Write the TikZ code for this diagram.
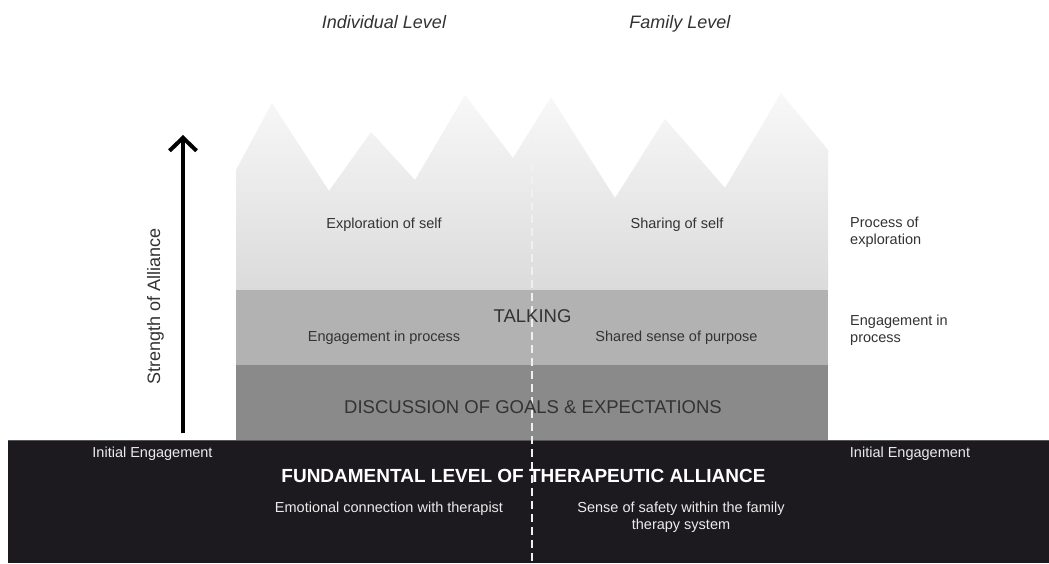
\documentclass[tikz,border=0pt]{standalone}
\usepackage{fontspec}
\setmainfont{Liberation Sans}
\usetikzlibrary{arrows.meta}
\definecolor{txt}{HTML}{333333}
\definecolor{fogtop}{HTML}{F8F8F8}
\definecolor{fogbot}{HTML}{DBDBDC}
\definecolor{talkband}{HTML}{B2B2B3}
\definecolor{goalband}{HTML}{8A8A8B}
\definecolor{baseband}{HTML}{1C1A1F}
\definecolor{baseedge}{HTML}{555458}
\tikzset{
  lbl/.style={font=\fontsize{14.5}{17}\selectfont, text=txt, inner sep=0pt, anchor=base},
  wlbl/.style={lbl, text=white!92!black},
  caplbl/.style={font=\fontsize{18.5}{22}\selectfont, text=txt, inner sep=0pt, anchor=base},
  ttl/.style={font=\fontsize{18}{22}\selectfont\itshape, text=txt, inner sep=0pt, anchor=base},
  side/.style={lbl, anchor=base west, align=left},
  divider/.style={white!94!black, line width=1.4pt, dash pattern=on 8pt off 5pt},
  strength/.style={line width=4pt, -{Straight Barb[length=13pt,width=27pt,line width=4pt]}}
}
\begin{document}
\begin{tikzpicture}[x=1pt,y=-1pt]
\useasboundingbox (0,0) rectangle (1049,563);
\fill[white] (0,0) rectangle (1049,563);
% exploration region with peaks
\shade[top color=fogtop, bottom color=fogbot]
  (236,290) -- (236,170) -- (272,103) -- (329,191) -- (371,132) -- (415,180)
  -- (465,95) -- (513,158) -- (551,97) -- (615,198) -- (665,119) -- (725,188)
  -- (781,93) -- (828,150) -- (828,290) -- cycle;
% bands
\fill[talkband] (236,290) rectangle (828,365);
\fill[goalband] (236,365) rectangle (828,440);
\fill[baseband] (8,440) rectangle (1049,563);
\draw[baseedge, line width=1pt] (8,440.5) -- (1049,440.5);
% divider
\coordinate (dtop) at (532,137);
\coordinate (dbot) at (532,563);
\draw[divider] (dtop) -- (dbot);
% strength arrow
\coordinate (abot) at (183,433);
\coordinate (atop) at (183,135);
\draw[strength] (abot) -- (atop);
\node[caplbl, rotate=90, font=\fontsize{18}{22}\selectfont] (strength) at (160,306) {Strength of Alliance};
% titles
\node[ttl] (indiv) at (384,28) {Individual Level};
\node[ttl] (fam) at (680,28) {Family Level};
% exploration
\node[lbl] (expl) at (384,228) {Exploration of self};
\node[lbl] (share) at (677,228) {Sharing of self};
\node[side] (proc) at (850,244) {Process of\\exploration};
% talking
\node[caplbl] (talk) at (532.5,322) {TALKING};
\node[lbl] (engp) at (384,341) {Engagement in process};
\node[lbl] (purp) at (676.5,341) {Shared sense of purpose};
\node[side] (engr) at (850,342) {Engagement in\\process};
% goals
\node[caplbl] (goals) at (533,413) {DISCUSSION OF GOALS \& EXPECTATIONS};
% fundamental
\node[wlbl] (initl) at (152.5,457) {Initial Engagement};
\node[wlbl] (initr) at (910,457) {Initial Engagement};
\node[font=\fontsize{19}{22}\selectfont\bfseries, text=white, inner sep=0pt, anchor=base] (fund) at (523.5,482) {FUNDAMENTAL LEVEL OF THERAPEUTIC ALLIANCE};
\node[wlbl] (emo) at (389,512) {Emotional connection with therapist};
\node[wlbl, align=center] (safe) at (681,529) {Sense of safety within the family\\therapy system};
\end{tikzpicture}
\end{document}
